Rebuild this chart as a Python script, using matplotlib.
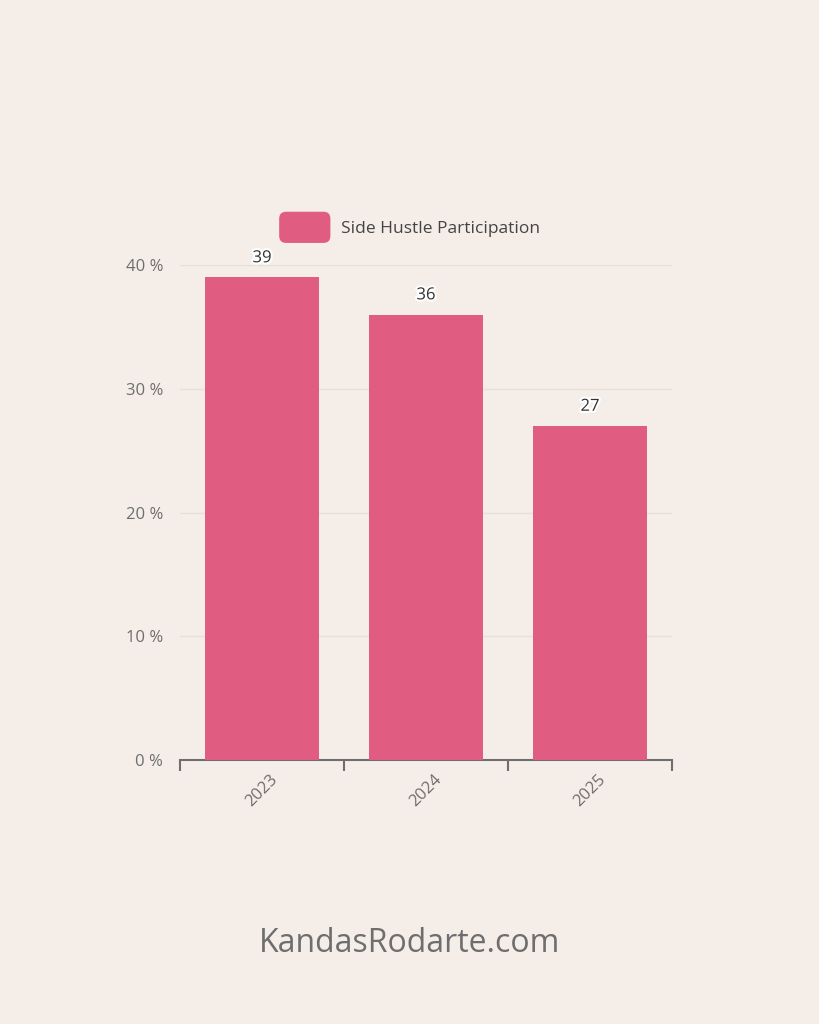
import matplotlib.pyplot as plt
import matplotlib.patheffects as pe
from matplotlib.patches import FancyBboxPatch
from matplotlib.legend_handler import HandlerPatch

# 數據
years = ['2023', '2024', '2025']
participation = [39, 36, 27]
series_name = 'Side Hustle Participation'

bg = '#F5EEE8'
bar_color = '#E05C80'
grey = '#6E6E6E'

plt.rcParams['font.family'] = ['Open Sans', 'DejaVu Sans']

fig = plt.figure(figsize=(8.19, 10.24), dpi=100, facecolor=bg)
ax = fig.add_axes([0.2198, 0.2578, 0.6007, 0.4834])
ax.set_facecolor(bg)

x = list(range(len(years)))
bars = ax.bar(x, participation, width=0.69, color=bar_color, label=series_name, zorder=3)

# 數值標籤 (白色描邊)
for xi, v in zip(x, participation):
    ax.text(xi, v + 0.9, f'{v}', ha='center', va='bottom', fontsize=12, color='#333333',
            path_effects=[pe.withStroke(linewidth=3, foreground='white')], zorder=4)

ax.set_xlim(-0.5, len(years) - 0.5)
ax.set_ylim(0, 40)
ax.set_yticks([0, 10, 20, 30, 40])
ax.set_yticklabels([f'{t} %' for t in [0, 10, 20, 30, 40]], fontsize=12, color=grey)
ax.yaxis.grid(True, color='#E8DFD8', linewidth=1, zorder=0)
ax.tick_params(axis='y', length=0, pad=12)

ax.set_xticks(x)
ax.set_xticklabels(years, rotation=45, fontsize=12, color=grey, ha='center', va='top')
ax.set_xticks([i - 0.5 for i in range(len(years) + 1)], minor=True)
ax.tick_params(axis='x', which='major', length=0, pad=8)
ax.tick_params(axis='x', which='minor', length=8, width=1.5, color=grey, direction='out')

for s in ['top', 'right', 'left']:
    ax.spines[s].set_visible(False)
ax.spines['bottom'].set_color(grey)
ax.spines['bottom'].set_linewidth(1.5)


class RoundHandler(HandlerPatch):
    def create_artists(self, legend, orig_handle, xdescent, ydescent, width, height, fontsize, trans):
        p = FancyBboxPatch((-xdescent, -ydescent - 3), width, height + 6,
                           boxstyle='round,pad=0,rounding_size=5',
                           facecolor=bar_color, edgecolor='none', transform=trans)
        return [p]


leg = ax.legend(handles=[bars.patches[0]], labels=[series_name], loc='center',
                bbox_to_anchor=(0.5, 0.778), bbox_transform=fig.transFigure,
                frameon=False, fontsize=12.5,
                handlelength=2.95, handleheight=1.65, handletextpad=0.6,
                handler_map={bars.patches[0].__class__: RoundHandler()})
for t in leg.get_texts():
    t.set_color('#444444')

fig.text(0.5, 0.079, 'KandasRodarte.com', ha='center', va='center', fontsize=23, color=grey)

fig.savefig('out.png', dpi=100, facecolor=bg)
